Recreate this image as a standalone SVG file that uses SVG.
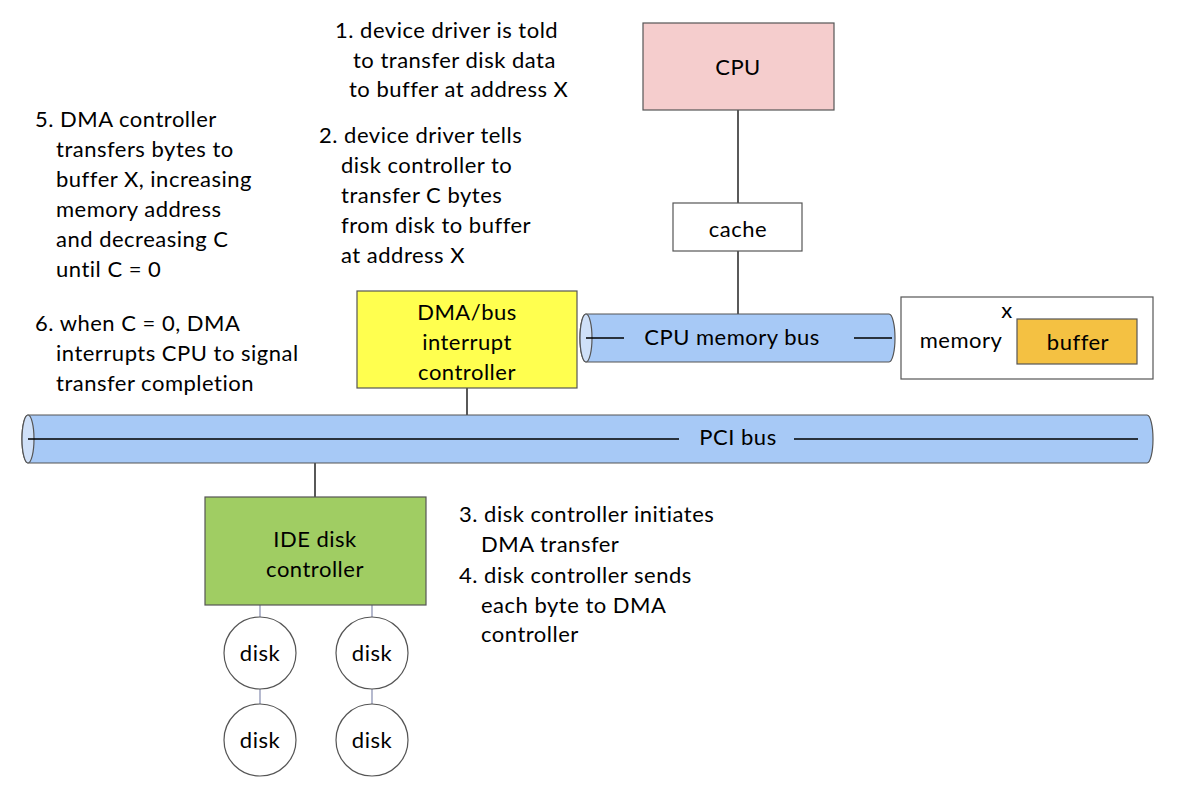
<svg xmlns="http://www.w3.org/2000/svg" width="1190" height="788" viewBox="0 0 1190 788">
<style>
text{font-family:"Lato","Open Sans","DejaVu Sans",sans-serif;font-size:22px;letter-spacing:0.5px;fill:#000}
.c{text-anchor:middle}
.box{stroke:#555;stroke-width:1.2}
.bus{fill:#a7c9f6;stroke:#555;stroke-width:1.2}
.end{fill:#cfe0f8;stroke:#555;stroke-width:1.2}
.wire{stroke:#000;stroke-width:1.3;fill:none}
.dw{stroke:#8f95b5;stroke-width:1.3;fill:none}
.disk{fill:#fff;stroke:#555;stroke-width:1.2}
</style>
<rect width="1190" height="788" fill="#fff"/>

<g id="connectors">
<path class="wire" d="M738,110 V203"/>
<path class="wire" d="M738,251 V314"/>
<path class="wire" d="M467,388 V439 H315 V497"/>
<path class="dw" d="M260,605 V617 M372,605 V617 M260,689 V704 M372,689 V704"/>
</g>

<g id="pci-bus">
<path class="bus" d="M28,415 H1147 A6,24 0 0 1 1147,463 H28 A6,24 0 0 1 28,415 Z"/>
<ellipse class="end" cx="28" cy="439" rx="6" ry="24"/>
<path class="wire" d="M28,439 H679 M794,439 H1138" stroke-width="1"/>
<text class="c" x="738" y="445">PCI bus</text>
</g>

<g id="cpu-memory-bus">
<path class="bus" d="M586,314 H889 A6,24 0 0 1 889,362 H586 A6,24 0 0 1 586,314 Z"/>
<ellipse class="end" cx="586" cy="338" rx="6" ry="24"/>
<path class="wire" d="M586,338 H624 M854,338 H892" stroke-width="1"/>
<text class="c" x="732" y="345">CPU memory bus</text>
</g>

<g id="cpu">
<rect class="box" x="643" y="23" width="191" height="87" fill="#f5cdcd"/>
<text class="c" x="738" y="75">CPU</text>
</g>

<g id="cache">
<rect class="box" x="673" y="203" width="129" height="48" fill="#fff"/>
<text class="c" x="738" y="237">cache</text>
</g>

<g id="memory">
<rect class="box" x="901" y="297" width="252" height="82" fill="#fff"/>
<text class="c" x="961" y="348">memory</text>
<text class="c" x="1007" y="318">x</text>
<rect class="box" x="1017" y="319" width="120" height="45" fill="#f4c142"/>
<text class="c" x="1078" y="350">buffer</text>
</g>

<g id="dma">
<rect class="box" x="357" y="291" width="220" height="97" fill="#ffff4f"/>
<text class="c" x="467" y="320">DMA/bus</text>
<text class="c" x="467" y="350">interrupt</text>
<text class="c" x="467" y="380">controller</text>
</g>

<g id="ide">
<rect class="box" x="205" y="497" width="221" height="108" fill="#a0cd63"/>
<text class="c" x="315" y="547">IDE disk</text>
<text class="c" x="315" y="577">controller</text>
</g>

<g id="disk1"><circle class="disk" cx="260" cy="653" r="36"/><text class="c" x="260" y="661">disk</text></g>
<g id="disk2"><circle class="disk" cx="372" cy="653" r="36"/><text class="c" x="372" y="661">disk</text></g>
<g id="disk3"><circle class="disk" cx="260" cy="740" r="36"/><text class="c" x="260" y="748">disk</text></g>
<g id="disk4"><circle class="disk" cx="372" cy="740" r="36"/><text class="c" x="372" y="748">disk</text></g>

<g id="notes">
<text x="335" y="38">1. device driver is told</text>
<text x="353" y="68">to transfer disk data</text>
<text x="349" y="97">to buffer at address X</text>

<text x="319" y="143">2. device driver tells</text>
<text x="341" y="173">disk controller to</text>
<text x="341" y="203">transfer C bytes</text>
<text x="341" y="233">from disk to buffer</text>
<text x="341" y="263">at address X</text>

<text x="35" y="127">5. DMA controller</text>
<text x="56" y="157">transfers bytes to</text>
<text x="56" y="187">buffer X, increasing</text>
<text x="56" y="217">memory address</text>
<text x="56" y="247">and decreasing C</text>
<text x="56" y="277">until C = 0</text>

<text x="35" y="331">6. when C = 0, DMA</text>
<text x="56" y="361">interrupts CPU to signal</text>
<text x="56" y="391">transfer completion</text>

<text x="459" y="522">3. disk controller initiates</text>
<text x="481" y="552">DMA transfer</text>
<text x="459" y="583">4. disk controller sends</text>
<text x="481" y="613">each byte to DMA</text>
<text x="481" y="642">controller</text>
</g>
</svg>
